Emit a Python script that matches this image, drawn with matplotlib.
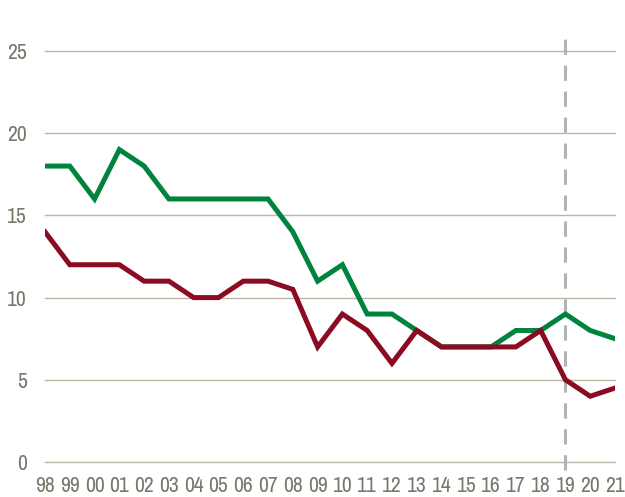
import matplotlib
matplotlib.use("Agg")
import matplotlib.pyplot as plt
from matplotlib import font_manager

years = ["98", "99", "00", "01", "02", "03", "04", "05", "06", "07", "08", "09",
         "10", "11", "12", "13", "14", "15", "16", "17", "18", "19", "20", "21"]
green_vals = [18, 18, 16, 19, 18, 16, 16, 16, 16, 16, 14, 11,
              12, 9, 9, 8, 7, 7, 7, 8, 8, 9, 8, 7.5]
red_vals = [14, 12, 12, 12, 11, 11, 10, 10, 11, 11, 10.5, 7,
            9, 8, 6, 8, 7, 7, 7, 7, 8, 5, 4, 4.5]
y_ticks = [0, 5, 10, 15, 20, 25]
marker_year = "19"

GREEN = "#00843d"
RED = "#8b0b22"
GRID = "#b9b6a6"
LABEL = "#77776a"

names = sorted({f.name for f in font_manager.fontManager.ttflist})
narrow = [n for n in names if "Narrow" in n or "Condensed" in n]
plt.rcParams["font.family"] = narrow[:1] + ["Liberation Sans", "DejaVu Sans"]
plt.rcParams["font.stretch"] = "condensed"

fig = plt.figure(figsize=(6.25, 4.97), dpi=100, facecolor="white")
ax = fig.add_axes([0.072, 0.0704, 0.912, 0.827])

x = list(range(len(years)))
ax.plot(x, green_vals, color=GREEN, lw=3.6, solid_joinstyle="miter", zorder=3)
ax.plot(x, red_vals, color=RED, lw=3.6, solid_joinstyle="miter", zorder=4)

# forecast divider
xi = years.index(marker_year)
ax.axvline(xi, ymin=-0.02, ymax=1.052, color="#b3b3b3", lw=2.2,
           dashes=(5, 3.5), clip_on=False, zorder=2)

ax.set_xlim(0, len(years) - 1)
ax.set_ylim(0, 25)
ax.set_xticks(x)
ax.set_xticklabels(years)
ax.set_yticks(y_ticks)
for yv in y_ticks:
    ax.axhline(yv, color=GRID, lw=1.0, clip_on=False, zorder=1)
for s in ax.spines.values():
    s.set_visible(False)
ax.tick_params(axis="both", length=0, labelsize=15.5, labelcolor=LABEL)
ax.tick_params(axis="y", pad=13)
ax.tick_params(axis="x", pad=10)

fig.savefig("out.png", dpi=100, facecolor="white")
